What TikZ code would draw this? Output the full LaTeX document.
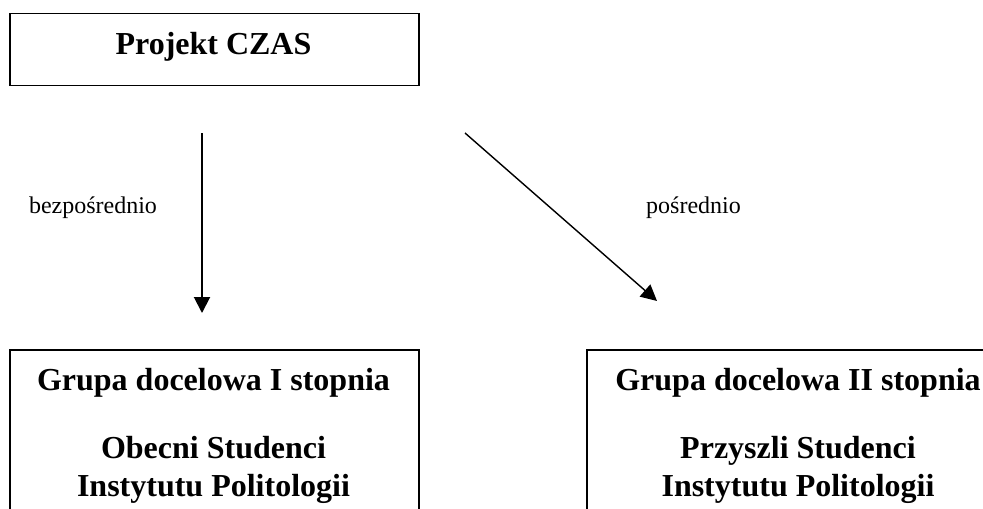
\documentclass[tikz,border=0pt]{standalone}
\usepackage{fontspec}
\setmainfont{Liberation Serif}
\usetikzlibrary{arrows.meta}
\tikzset{
ramka/.style={draw, line width=0.75pt, inner sep=0pt},
tytul/.style={anchor=base, inner sep=0pt, font=\fontsize{16}{19}\selectfont\bfseries},
grupa/.style={anchor=base, inner sep=0pt, font=\fontsize{16}{19}\selectfont\bfseries},
opis/.style={anchor=base, inner sep=0pt, font=\fontsize{12}{14}\selectfont},
strzalka/.style={-{Triangle[length=8pt,width=8pt]}}
}

\begin{document}
\begin{tikzpicture}[x=0.5pt,y=-0.5pt]
\useasboundingbox (0,0) rectangle (983,508);
\clip (0,0) rectangle (983,508);
\node[ramka, anchor=north west, minimum width=204.5pt, minimum height=36pt] (projekt) at (9,13) {};
\node[ramka, anchor=north west, minimum width=204.5pt, minimum height=90pt] (grupa1) at (9,349) {};
\node[ramka, anchor=north west, minimum width=212pt, minimum height=90pt] (grupa2) at (586,349) {};
\node[tytul] (czas) at (213.5,55) {Projekt CZAS};
\node[grupa] (st1) at (213.5,390) {Grupa docelowa I stopnia};
\node[grupa] (obecni) at (213.5,458) {Obecni Studenci};
\node[grupa] (inst1) at (213.5,496) {Instytutu Politologii};
\node[grupa] (st2) at (798,390) {Grupa docelowa II stopnia};
\node[grupa] (przyszli) at (798,458) {Przyszli Studenci};
\node[grupa] (inst2) at (798,496) {Instytutu Politologii};
\coordinate (a1) at (202,133);
\coordinate (b1) at (202,313);
\coordinate (a2) at (465,133);
\coordinate (b2) at (657,301);
\draw[strzalka, line width=1pt] (a1) -- (b1);
\draw[strzalka, line width=0.7pt] (a2) -- (b2);
\node[opis] (bezp) at (93,213) {bezpośrednio};
\node[opis] (posr) at (693.5,213) {pośrednio};
\end{tikzpicture}
\end{document}
